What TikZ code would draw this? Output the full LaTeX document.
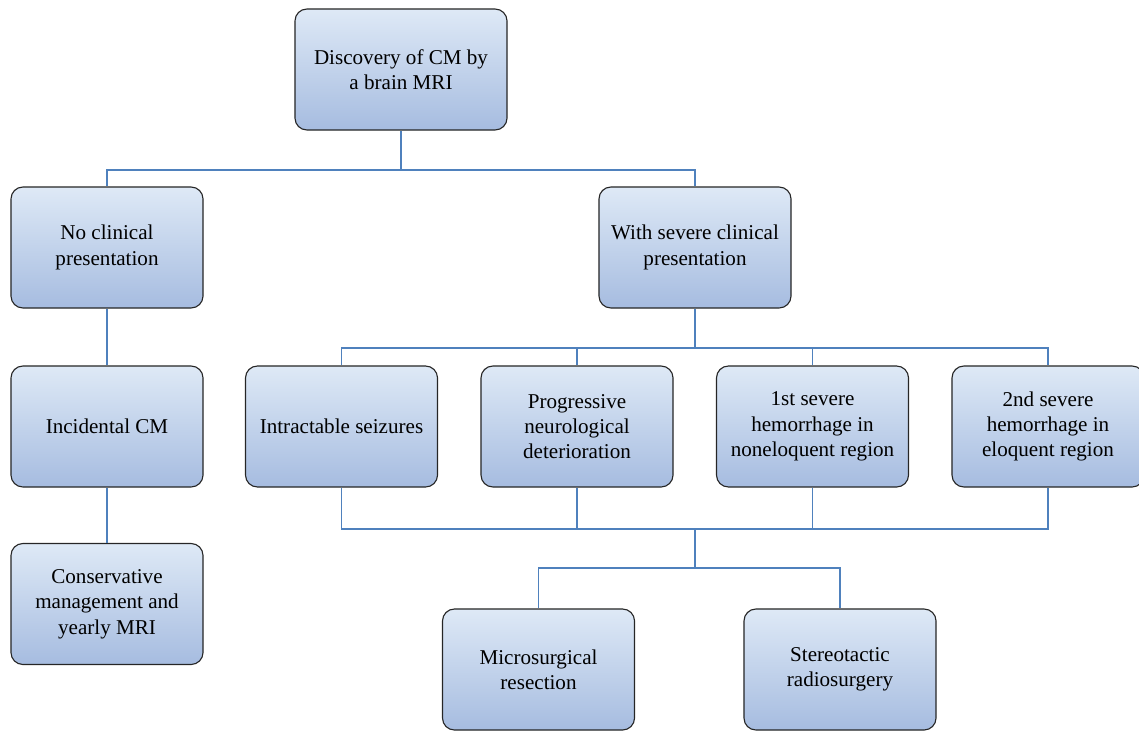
\documentclass[tikz,border=0pt]{standalone}
\usepackage{fontspec}
\setmainfont{Liberation Serif}
\usepackage{tikz}
\usetikzlibrary{positioning}
\definecolor{linkblue}{RGB}{79,129,189}
\definecolor{boxtop}{RGB}{222,233,246}
\definecolor{boxbot}{RGB}{166,188,224}
\tikzset{
    box/.style = {rectangle, rounded corners=0.3cm, draw=black!85, line width=0.8pt,
                  top color=boxtop, bottom color=boxbot, align=center,
                  minimum width=4.8cm, minimum height=3.025cm,
                  font=\fontsize{15}{18}\selectfont},
    boxw/.style = {box, minimum width=5.3cm},
    link/.style = {draw=linkblue, line width=1pt},
}

\begin{document}
\begin{tikzpicture}[x=0.025cm,y=-0.025cm]
\path[use as bounding box,clip] (0,0) rectangle (1139,737);
%
\node[boxw] at (401,69.5) (mri) {Discovery of CM by\\a brain MRI};
\node[box] at (107,247.5) (nocl) {No clinical\\presentation};
\node[box] at (695,247.5) (sev) {With severe clinical\\presentation};
\node[box] at (107,426.5) (inc) {Incidental CM};
\node[box] at (107,604) (cons) {Conservative\\management and\\yearly MRI};
\node[box] at (341.5,426.5) (seiz) {Intractable seizures};
\node[box] at (577,426.5) (prog) {Progressive\\neurological\\deterioration};
\node[box] at (812.5,426.5) (hem1) {1st severe\\hemorrhage in\\noneloquent region};
\node[box] at (1048,426.5) (hem2) {2nd severe\\hemorrhage in\\eloquent region};
\node[box] at (538.5,669.5) (micro) {Microsurgical\\resection};
\node[box] at (840,669.5) (stereo) {Stereotactic\\radiosurgery};
%
\coordinate (bus1) at (401,170);
\coordinate (bus2) at (695,348);
\coordinate (bus3) at (695,529);
\coordinate (bus4) at (695,568);
%
\draw[link] (mri) -- (bus1);
\draw[link] (bus1) -| (nocl);
\draw[link] (bus1) -| (sev);
\draw[link] (nocl) -- (inc);
\draw[link] (inc) -- (cons);
\draw[link] (sev) -- (bus2);
\draw[link] (bus2) -| (seiz);
\draw[link] (bus2) -| (prog);
\draw[link] (bus2) -| (hem1);
\draw[link] (bus2) -| (hem2);
\draw[link] (seiz) |- (bus3);
\draw[link] (prog) |- (bus3);
\draw[link] (hem1) |- (bus3);
\draw[link] (hem2) |- (bus3);
\draw[link] (bus3) -- (bus4);
\draw[link] (bus4) -| (micro);
\draw[link] (bus4) -| (stereo);

\end{tikzpicture}
\end{document}
